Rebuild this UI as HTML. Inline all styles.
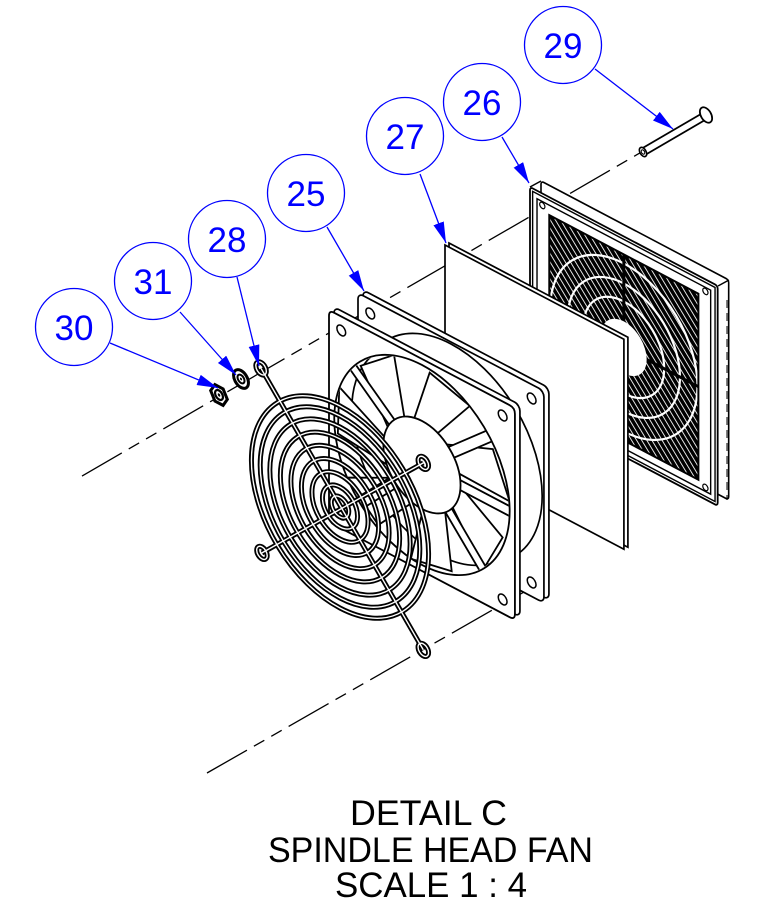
<!DOCTYPE html>
<html><head><meta charset="utf-8">
<style>
html,body{margin:0;padding:0;background:#fff;}
svg{display:block;}
svg *{vector-effect:non-scaling-stroke;}
</style></head>
<body>
<svg width="772" height="910" viewBox="0 0 772 910" xmlns="http://www.w3.org/2000/svg">
<defs>
 <marker id="ah" markerUnits="userSpaceOnUse" markerWidth="22" markerHeight="12" refX="21" refY="5.5" orient="auto">
   <path d="M0,0 L21,5.5 L0,11 Z" fill="#0000ff"/>
 </marker>
 <pattern id="grill" patternUnits="userSpaceOnUse" width="6" height="6" patternTransform="rotate(-45)">
   <rect width="6" height="6" fill="#000"/>
   <rect width="1.2" height="6" fill="#fff"/>
 </pattern>
 <clipPath id="fanOpen"><circle cx="106" cy="106" r="99"/></clipPath>
 <clipPath id="grillClip"><rect x="22" y="18" width="170" height="186"/></clipPath>
</defs>
<rect width="772" height="910" fill="#fff"/>

<!-- center lines -->
<g stroke="#000" stroke-width="1.3" fill="none" stroke-dasharray="46 8 12 8 12 8">
 <line x1="82" y1="476" x2="645" y2="150"/>
 <line x1="207" y1="773" x2="545" y2="580"/>
</g>

<!-- pin 29 -->
<line x1="643" y1="152" x2="703" y2="117" stroke="#000" stroke-width="9"/>
<line x1="643" y1="152" x2="703" y2="117" stroke="#fff" stroke-width="5.5"/>
<g transform="matrix(0.877 0.462 0 1 643 152)"><circle r="4.2" fill="#fff" stroke="#000" stroke-width="1.6"/><circle r="2" fill="none" stroke="#000" stroke-width="1"/></g>
<g transform="matrix(0.877 0.462 0 1 706 115)"><circle r="7" fill="#fff" stroke="#000" stroke-width="1.8"/></g>

<!-- filter 26 -->
<g transform="matrix(0.877 0.462 0 1 541 181)"><rect width="214" height="220" rx="3" fill="#fff" stroke="#000" stroke-width="1.6"/></g>
<line x1="530" y1="187" x2="541" y2="181" stroke="#000" stroke-width="1.5"/>
<line x1="718" y1="286" x2="729" y2="280" stroke="#000" stroke-width="1.5"/>
<line x1="727" y1="300" x2="727" y2="500" stroke="#000" stroke-width="1" stroke-dasharray="8 5"/>
<g transform="matrix(0.877 0.462 0 1 530 187)">
  <rect width="214" height="220" rx="3" fill="#fff" stroke="#000" stroke-width="1.8"/>
  <rect x="3" y="3" width="208" height="214" fill="none" stroke="#000" stroke-width="1.4"/>
  <rect x="8" y="8" width="198" height="204" fill="none" stroke="#000" stroke-width="1.4"/>
  <g clip-path="url(#grillClip)">
    <rect x="22" y="18" width="170" height="186" fill="url(#grill)"/>
    <g fill="none" stroke="#fff" stroke-width="2.2">
      <circle cx="107" cy="111" r="46"/>
      <circle cx="107" cy="111" r="64"/>
      <circle cx="107" cy="111" r="84"/>
    </g>
    <g fill="none" stroke="#000" stroke-width="3">
      <line x1="107" y1="18" x2="107" y2="204"/>
      <line x1="22" y1="111" x2="192" y2="111"/>
    </g>
    <circle cx="107" cy="111" r="26" fill="#fff"/>
  </g>
  <rect x="22" y="18" width="170" height="186" fill="none" stroke="#000" stroke-width="2"/>
  <g fill="#fff" stroke="#000" stroke-width="1.2">
    <circle cx="14" cy="12" r="3"/><circle cx="200" cy="12" r="3"/>
    <circle cx="200" cy="208" r="3"/><circle cx="14" cy="208" r="3"/>
  </g>
</g>

<!-- pad 27 -->
<g transform="matrix(0.877 0.462 0 1 449 243)"><rect width="204" height="210" fill="#fff" stroke="#000" stroke-width="1.7"/></g>
<g transform="matrix(0.877 0.462 0 1 445 245)"><rect width="204" height="210" fill="#fff" stroke="#000" stroke-width="1.7"/></g>

<!-- fan back flange -->
<g transform="matrix(0.877 0.462 0 1 363 290)"><rect width="212" height="212" rx="6" fill="#fff" stroke="#000" stroke-width="1.7"/></g>
<g transform="matrix(0.877 0.462 0 1 358 293)">
  <rect width="212" height="212" rx="6" fill="#fff" stroke="#000" stroke-width="1.7"/>
  <g fill="#fff" stroke="#000" stroke-width="1.5">
    <circle cx="14" cy="14" r="5"/><circle cx="198" cy="14" r="5"/>
    <circle cx="198" cy="198" r="5"/><circle cx="14" cy="198" r="5"/>
  </g>
  <circle cx="106" cy="106" r="104" fill="#fff" stroke="#000" stroke-width="1.7"/>
</g>

<!-- fan front flange + interior -->
<g transform="matrix(0.877 0.462 0 1 334 307)"><rect width="212" height="212" rx="6" fill="#fff" stroke="#000" stroke-width="1.7"/></g>
<g transform="matrix(0.877 0.462 0 1 329 310)">
  <g clip-path="url(#fanOpen)">
    <rect x="0" y="0" width="212" height="212" fill="#fff"/>
    <circle cx="126" cy="87" r="100" fill="none" stroke="#000" stroke-width="1.7"/>
    <g transform="translate(106 106)" stroke="#000" stroke-width="1.8" fill="#fff">
      <g id="bl">
        <polygon points="42,0 92,30 70,72 34,25"/>
      </g>
      <use href="#bl" transform="rotate(51.43)"/>
      <use href="#bl" transform="rotate(102.86)"/>
      <use href="#bl" transform="rotate(154.29)"/>
      <use href="#bl" transform="rotate(205.71)"/>
      <use href="#bl" transform="rotate(257.14)"/>
      <use href="#bl" transform="rotate(308.57)"/>
      <g id="st"><rect x="40" y="-5" width="62" height="10"/></g>
      <use href="#st" transform="rotate(218)"/>
      <use href="#st" transform="rotate(320)"/>
      <use href="#st" transform="rotate(46)"/>
      <use href="#st" transform="rotate(135)"/>
      <circle r="44"/>
    </g>
  </g>
  <path d="M6,0 H206 Q212,0 212,6 V206 Q212,212 206,212 H6 Q0,212 0,206 V6 Q0,0 6,0 Z M206,106 A100,100 0 1 0 6,106 A100,100 0 1 0 206,106 Z" fill="#fff" fill-rule="evenodd" stroke="#000" stroke-width="1.8"/>
  <g fill="#fff" stroke="#000" stroke-width="1.5">
    <circle cx="14" cy="14" r="5"/><circle cx="198" cy="14" r="5"/>
    <circle cx="198" cy="198" r="5"/><circle cx="14" cy="198" r="5"/>
  </g>
</g>

<!-- grille 28 -->
<g transform="matrix(0.877 0.462 0 1 340 507)" fill="none">
  <g stroke="#000" stroke-width="5">
    <circle r="101"/><circle r="91"/><circle r="80"/><circle r="68"/><circle r="56"/>
    <circle r="44"/><circle r="32"/><circle r="20"/><circle r="10"/>
    <line x1="-90" y1="-97" x2="95" y2="99"/>
    <line x1="95" y1="-88" x2="-89" y2="87"/>
    <circle cx="-90" cy="-97" r="6"/><circle cx="95" cy="99" r="6"/>
    <circle cx="95" cy="-88" r="6"/><circle cx="-89" cy="87" r="6"/>
  </g>
  <g stroke="#fff" stroke-width="1.4">
    <circle r="101"/><circle r="91"/><circle r="80"/><circle r="68"/><circle r="56"/>
    <circle r="44"/><circle r="32"/><circle r="20"/><circle r="10"/>
    <line x1="-90" y1="-97" x2="95" y2="99"/>
    <line x1="95" y1="-88" x2="-89" y2="87"/>
    <circle cx="-90" cy="-97" r="6"/><circle cx="95" cy="99" r="6"/>
    <circle cx="95" cy="-88" r="6"/><circle cx="-89" cy="87" r="6"/>
  </g>
</g>

<!-- washer 31 -->
<g transform="matrix(0.877 0.462 0 1 241 379)">
  <circle r="8.5" fill="#fff" stroke="#000" stroke-width="3"/>
  <circle r="4" fill="none" stroke="#000" stroke-width="2"/>
  <circle r="1.2" fill="#000"/>
</g>
<!-- nut 30 -->
<g transform="matrix(0.877 0.462 0 1 219 395)">
  <polygon points="9.5,0 4.7,8.2 -4.7,8.2 -9.5,0 -4.7,-8.2 4.7,-8.2" fill="#fff" stroke="#000" stroke-width="3"/>
  <circle r="4.5" fill="none" stroke="#000" stroke-width="2.2"/>
  <circle r="1.5" fill="#000"/>
</g>

<!-- balloons -->
<g stroke="#0000ff" stroke-width="1.3" fill="none">
  <circle cx="74" cy="327" r="38.5"/>
  <circle cx="153" cy="281" r="38.5"/>
  <circle cx="227" cy="239" r="38.5"/>
  <circle cx="306" cy="193" r="38.5"/>
  <circle cx="405" cy="136" r="38.5"/>
  <circle cx="482" cy="102" r="38.5"/>
  <circle cx="563" cy="45" r="38.5"/>
  <line x1="110" y1="343" x2="218" y2="388" marker-end="url(#ah)"/>
  <line x1="180" y1="312" x2="236" y2="375" marker-end="url(#ah)"/>
  <line x1="237" y1="277" x2="259" y2="366" marker-end="url(#ah)"/>
  <line x1="327" y1="227" x2="364" y2="291" marker-end="url(#ah)"/>
  <line x1="420" y1="174" x2="446" y2="243" marker-end="url(#ah)"/>
  <line x1="502" y1="137" x2="529" y2="183" marker-end="url(#ah)"/>
  <line x1="595" y1="69" x2="673" y2="129" marker-end="url(#ah)"/>
</g>
<g fill="#0000ff" font-family="'Liberation Sans', sans-serif" font-size="35" text-anchor="middle">
  <text x="74" y="340">30</text>
  <text x="153" y="294">31</text>
  <text x="227" y="252">28</text>
  <text x="306" y="206">25</text>
  <text x="405" y="149">27</text>
  <text x="482" y="115">26</text>
  <text x="563" y="58">29</text>
</g>

<!-- title -->
<g fill="#000" font-family="'Liberation Sans', sans-serif" font-size="35">
  <text x="350" y="825" textLength="157" lengthAdjust="spacingAndGlyphs">DETAIL C</text>
  <text x="268" y="862" textLength="325" lengthAdjust="spacingAndGlyphs">SPINDLE HEAD FAN</text>
  <text x="335" y="897" textLength="192" lengthAdjust="spacingAndGlyphs">SCALE 1 : 4</text>
</g>
</svg>
</body></html>
